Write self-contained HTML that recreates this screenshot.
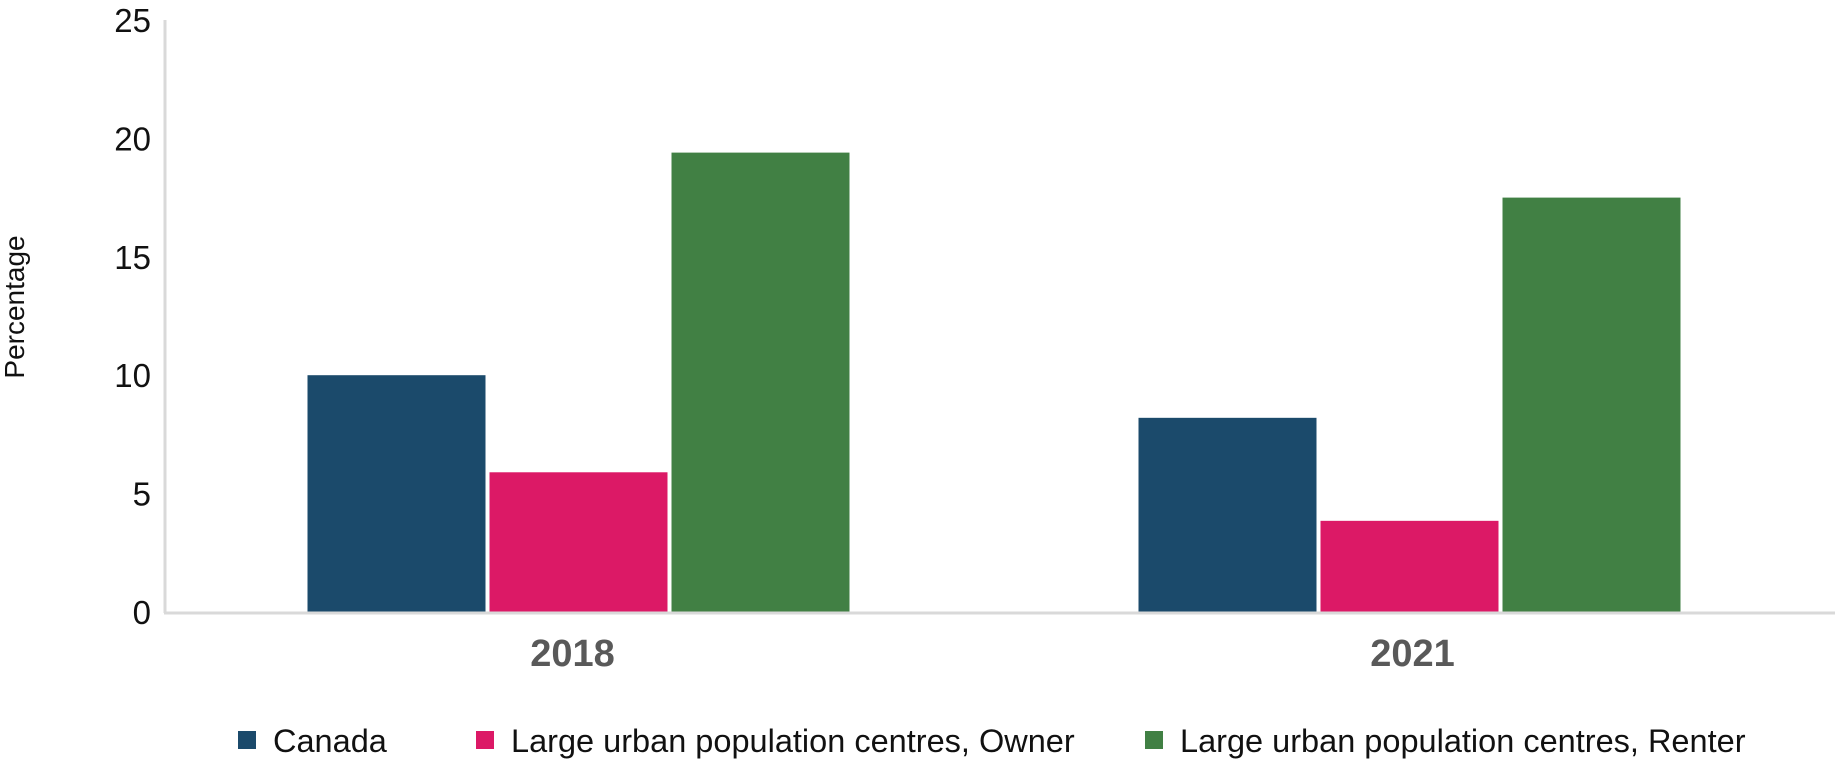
<!DOCTYPE html>
<html><head><meta charset="utf-8"><style>
html,body{margin:0;padding:0;background:#fff;}
svg{display:block;font-family:"Liberation Sans",sans-serif;}
</style></head><body>
<svg id="chart" width="1835" height="759" viewBox="0 0 1835 759">
<text x="24" y="307" font-size="28" fill="#111" text-anchor="middle" transform="rotate(-90 24 307)">Percentage</text>
<g id="yticks"></g>
<g id="bars"></g>
<line x1="165" y1="20" x2="165" y2="613" stroke="#d9d9d9" stroke-width="3"/>
<line x1="164" y1="613" x2="1835" y2="613" stroke="#d9d9d9" stroke-width="3"/>
<g id="xlabels"></g>
<g id="legend"></g>
</svg>
<script>
const categories = ["2018", "2021"];
const seriesNames = ["Canada", "Large urban population centres, Owner", "Large urban population centres, Renter"];
const canada = [10.0, 8.2];
const owner = [5.9, 3.85];
const renter = [19.4, 17.5];
const yTicks = [0, 5, 10, 15, 20, 25];
const colors = ["#1b4a6b", "#dc1966", "#418044"];
const NS = "http://www.w3.org/2000/svg";
const x0 = 165, x1 = 1835, y0 = 612, yTop = 20, yMax = 25;
function yS(v){ return y0 - (v / yMax) * (y0 - yTop); }
const band = (x1 - x0) / categories.length;
function xC(i){ return x0 + band * (i + 0.5) - 4 - 4 * i; }
function mk(tag, attrs, parent){ const e = document.createElementNS(NS, tag); for (const k in attrs) e.setAttribute(k, attrs[k]); parent.appendChild(e); return e; }
const yt = document.getElementById("yticks");
yTicks.forEach(t => {
  const e = mk("text", {x: 151, y: yS(t) + 12, "font-size": 33, fill: "#111", "text-anchor": "end"}, yt);
  
  
  e.textContent = t;
});
const series = [canada, owner, renter];
const bw = 178, gap = 4;
const bg = document.getElementById("bars");
categories.forEach((c, i) => {
  const start = xC(i) - (3 * bw + 2 * gap) / 2;
  series.forEach((s, j) => {
    const r = mk("rect", {x: start + j * (bw + gap), y: yS(s[i]), width: bw, height: y0 - yS(s[i]), fill: colors[j]}, bg);
    
    
  });
  const t = mk("text", {x: xC(i) - (i === 0 ? 6 : -3), y: 666, "font-size": 38, "font-weight": "bold", fill: "#595959", "text-anchor": "middle"}, document.getElementById("xlabels"));
  
  
  t.textContent = c;
});
const lg = document.getElementById("legend");
const lx = [238, 476, 1145];
seriesNames.forEach((n, j) => {
  const g = mk("g", {}, lg);
  
  
  mk("rect", {x: lx[j], y: 731, width: 18, height: 18, fill: colors[j]}, g);
  const t = mk("text", {x: lx[j] + 35, y: 752, "font-size": 32.5, fill: "#111"}, g);
  t.textContent = n;
});
</script>
</body></html>
